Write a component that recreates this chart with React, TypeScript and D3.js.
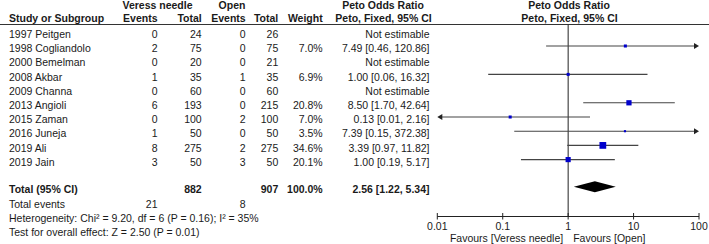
import React from "react";
import * as d3 from "d3";

const studies = ["1997 Peitgen","1998 Cogliandolo","2000 Bemelman","2008 Akbar","2009 Channa","2013 Angioli","2015 Zaman","2016 Juneja","2019 Ali","2019 Jain"];
const veressEvents = [0,2,0,1,0,6,0,1,8,3];
const veressTotal = [24,75,20,35,60,193,100,50,275,50];
const openEvents = [0,0,0,1,0,0,2,0,2,3];
const openTotal = [26,75,21,35,60,215,100,50,275,50];
const weights: (number|null)[] = [null,7.0,null,6.9,null,20.8,7.0,3.5,34.6,20.1];
const orEst: (number|null)[] = [null,7.49,null,1.00,null,8.50,0.13,7.39,3.39,1.00];
const ciLow: (number|null)[] = [null,0.46,null,0.06,null,1.70,0.01,0.15,0.97,0.19];
const ciHigh: (number|null)[] = [null,120.86,null,16.32,null,42.64,2.16,372.38,11.82,5.17];

const totalVeress = 882;
const totalOpen = 907;
const totalWeight = "100.0%";
const pooled = { est: 2.56, lo: 1.22, hi: 5.34 };
const eventsVeress = 21;
const eventsOpen = 8;
const heterogeneityText = "Heterogeneity: Chi² = 9.20, df = 6 (P = 0.16); I² = 35%";
const overallText = "Test for overall effect: Z = 2.50 (P = 0.01)";
const axisTicks = [0.01, 0.1, 1, 10, 100];
const favLeft = "Favours [Veress needle]";
const favRight = "Favours [Open]";

const FONT = "'Liberation Sans', Arial, Helvetica, sans-serif";
const FS = 10.5;
const TXT = "#1a1a1a";

export default function App() {
  const W = 709, H = 244;
  const x = d3.scaleLog().domain([0.01, 100]).range([437.3, 699]);
  const rowY = (i: number) => 31.8 + 14.2 * i;
  const totalY = 186.8;
  const axisY = 216.5;
  const tb = 6.1; // baseline offset from mark center

  const colEv1 = 157.5, colTot1 = 201.7, colEv2 = 245.7, colTot2 = 278.3, colW = 322.7, colOR = 429.5;
  const fmt = (v: number) => v.toFixed(2);

  const arrow = (xTip: number, y: number, dir: number) => {
    const p = `M${xTip},${y} L${xTip - dir * 5},${y - 3} L${xTip - dir * 5},${y + 3} Z`;
    return <path d={p} fill="#222" />;
  };

  return (
    <svg width={W} height={H} style={{ position: "absolute", left: 0, top: 0, background: "#fff" }} fontFamily={FONT} fontSize={FS} fill={TXT}>
      {/* headers */}
      <g fontWeight="bold">
        <text x={157.5} y={8.7} textAnchor="middle">Veress needle</text>
        <text x={232} y={8.7} textAnchor="middle">Open</text>
        <text x={383} y={8.7} textAnchor="middle">Peto Odds Ratio</text>
        <text x={569} y={8.7} textAnchor="middle">Peto Odds Ratio</text>
        <text x={9} y={21.5}>Study or Subgroup</text>
        <text x={colEv1} y={21.5} textAnchor="end">Events</text>
        <text x={colTot1} y={21.5} textAnchor="end">Total</text>
        <text x={colEv2} y={21.5} textAnchor="end">Events</text>
        <text x={colTot2} y={21.5} textAnchor="end">Total</text>
        <text x={colW} y={21.5} textAnchor="end">Weight</text>
        <text x={383.5} y={21.5} textAnchor="middle">Peto, Fixed, 95% CI</text>
        <text x={569.5} y={21.5} textAnchor="middle">Peto, Fixed, 95% CI</text>
      </g>
      <line x1={0} x2={709} y1={24.5} y2={24.5} stroke="#333" strokeWidth={1.2} />

      {/* study rows */}
      {studies.map((s, i) => {
        const y = rowY(i);
        const w = weights[i];
        const est = orEst[i], lo = ciLow[i], hi = ciHigh[i];
        return (
          <g key={s}>
            <text x={9} y={y + tb}>{s}</text>
            <text x={colEv1} y={y + tb} textAnchor="end">{veressEvents[i]}</text>
            <text x={colTot1} y={y + tb} textAnchor="end">{veressTotal[i]}</text>
            <text x={colEv2} y={y + tb} textAnchor="end">{openEvents[i]}</text>
            <text x={colTot2} y={y + tb} textAnchor="end">{openTotal[i]}</text>
            {w !== null && <text x={colW} y={y + tb} textAnchor="end">{w.toFixed(1)}%</text>}
            <text x={colOR} y={y + tb} textAnchor="end">
              {est === null ? "Not estimable" : `${fmt(est)} [${fmt(lo as number)}, ${fmt(hi as number)}]`}
            </text>
          </g>
        );
      })}

      {/* null line */}
      <line x1={x(1)} x2={x(1)} y1={24.5} y2={axisY} stroke="#222" strokeWidth={1} />

      {/* CI lines & squares */}
      {studies.map((s, i) => {
        const est = orEst[i], lo = ciLow[i], hi = ciHigh[i], w = weights[i];
        if (est === null || lo === null || hi === null || w === null) return null;
        const y = rowY(i);
        const [dmin, dmax] = x.domain();
        const x1 = x(Math.max(lo, dmin));
        const x2 = x(Math.min(hi, dmax));
        const side = 1.15 * Math.sqrt(w);
        return (
          <g key={"m" + s}>
            <line x1={lo <= dmin ? x1 + 4 : x1} x2={hi >= dmax ? x2 - 4 : x2} y1={y} y2={y} stroke="#444" strokeWidth={1.1} />
            {lo <= dmin && arrow(x1, y, -1)}
            {hi >= dmax && arrow(x2, y, 1)}
            <rect x={x(est) - side / 2} y={y - side / 2} width={side} height={side} fill="#0000cc" />
          </g>
        );
      })}

      {/* total row */}
      <g fontWeight="bold">
        <text x={9} y={totalY + tb}>Total (95% CI)</text>
        <text x={colTot1} y={totalY + tb} textAnchor="end">{totalVeress}</text>
        <text x={colTot2} y={totalY + tb} textAnchor="end">{totalOpen}</text>
        <text x={colW} y={totalY + tb} textAnchor="end">{totalWeight}</text>
        <text x={colOR} y={totalY + tb} textAnchor="end">{`${fmt(pooled.est)} [${fmt(pooled.lo)}, ${fmt(pooled.hi)}]`}</text>
      </g>
      <path
        d={`M${x(pooled.lo)},${totalY} L${x(pooled.est)},${totalY - 5.5} L${x(pooled.hi)},${totalY} L${x(pooled.est)},${totalY + 5.5} Z`}
        fill="#000"
      />
      <text x={9} y={204.3 + 3.7}>Total events</text>
      <text x={colEv1} y={204.3 + 3.7} textAnchor="end">{eventsVeress}</text>
      <text x={colEv2} y={204.3 + 3.7} textAnchor="end">{eventsOpen}</text>
      <text x={9} y={218.3 + 3.7}>{heterogeneityText}</text>
      <text x={9} y={232.3 + 3.7}>{overallText}</text>

      {/* axis */}
      <line x1={x(0.01)} x2={x(100)} y1={axisY} y2={axisY} stroke="#222" strokeWidth={1} />
      {axisTicks.map((t) => (
        <g key={t}>
          <line x1={x(t)} x2={x(t)} y1={axisY - 3.5} y2={axisY + 3} stroke="#222" strokeWidth={1} />
          <text x={x(t)} y={axisY + 13} textAnchor="middle">{String(t)}</text>
        </g>
      ))}
      <text x={x(1) - 5} y={241.6} textAnchor="end">{favLeft}</text>
      <text x={x(1) + 5} y={241.6}>{favRight}</text>
    </svg>
  );
}
